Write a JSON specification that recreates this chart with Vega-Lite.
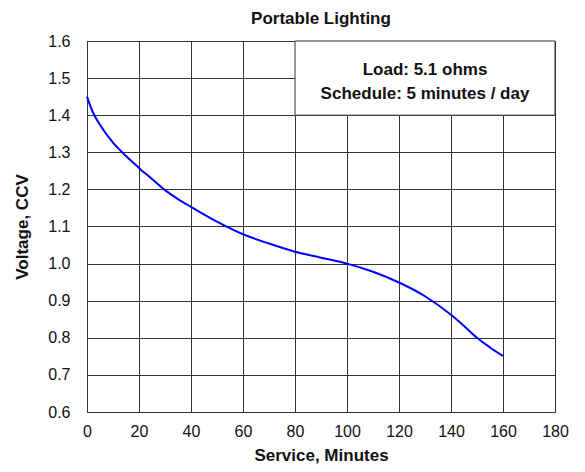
{
  "$schema": "https://vega.github.io/schema/vega-lite/v6.json",
  "width": 468,
  "height": 371,
  "autosize": {"type": "none"},
  "padding": {"left": 87, "top": 41, "right": 30, "bottom": 60},
  "background": "white",
  "config": {
    "font": "Liberation Sans",
    "view": {"stroke": "#444", "strokeWidth": 1},
    "axis": {
      "grid": true,
      "gridColor": "#333",
      "gridOpacity": 1,
      "gridWidth": 1,
      "domain": false,
      "ticks": false,
      "labelOverlap": false,
      "labelFlush": false,
      "labelFont": "Liberation Sans",
      "labelFontSize": 16,
      "labelColor": "#111",
      "titleFont": "Liberation Sans",
      "titleFontSize": 17,
      "titleFontWeight": "bold",
      "titleColor": "#111"
    },
    "axisX": {"labelPadding": 11, "titlePadding": 8},
    "axisY": {"labelPadding": 17, "titlePadding": 16}
  },
  "title": {
    "text": "Portable Lighting",
    "font": "Liberation Sans",
    "fontSize": 17,
    "fontWeight": "bold",
    "color": "#111",
    "offset": 5
  },
  "layer": [
    {
      "data": {
        "values": [
          {"minutes": 0, "voltage": 1.45},
          {"minutes": 2, "voltage": 1.412},
          {"minutes": 5, "voltage": 1.374},
          {"minutes": 10, "voltage": 1.326},
          {"minutes": 15, "voltage": 1.29},
          {"minutes": 20, "voltage": 1.258},
          {"minutes": 25, "voltage": 1.228},
          {"minutes": 30, "voltage": 1.198},
          {"minutes": 35, "voltage": 1.174},
          {"minutes": 40, "voltage": 1.153},
          {"minutes": 50, "voltage": 1.113},
          {"minutes": 60, "voltage": 1.079},
          {"minutes": 70, "voltage": 1.054},
          {"minutes": 80, "voltage": 1.032},
          {"minutes": 90, "voltage": 1.016},
          {"minutes": 100, "voltage": 1.0},
          {"minutes": 110, "voltage": 0.978},
          {"minutes": 120, "voltage": 0.949},
          {"minutes": 130, "voltage": 0.912},
          {"minutes": 140, "voltage": 0.862},
          {"minutes": 145, "voltage": 0.832},
          {"minutes": 150, "voltage": 0.8},
          {"minutes": 155, "voltage": 0.774},
          {"minutes": 160, "voltage": 0.751}
        ]
      },
      "mark": {"type": "line", "color": "#0000ff", "strokeWidth": 2, "interpolate": "monotone"},
      "encoding": {
        "x": {
          "field": "minutes",
          "type": "quantitative",
          "scale": {"domain": [0, 180], "nice": false},
          "axis": {"values": [0, 20, 40, 60, 80, 100, 120, 140, 160, 180], "title": "Service, Minutes"}
        },
        "y": {
          "field": "voltage",
          "type": "quantitative",
          "scale": {"domain": [0.6, 1.6], "nice": false, "zero": false},
          "axis": {"values": [0.6, 0.7, 0.8, 0.9, 1.0, 1.1, 1.2, 1.3, 1.4, 1.5, 1.6], "format": ".1f", "title": "Voltage, CCV"}
        }
      }
    },
    {
      "data": {"values": [{"note": "box"}]},
      "mark": {"type": "rect", "fill": "white", "stroke": "#333", "strokeWidth": 1},
      "encoding": {
        "x": {"datum": 80, "type": "quantitative", "axis": {"values": [0, 20, 40, 60, 80, 100, 120, 140, 160, 180], "title": "Service, Minutes"}},
        "x2": {"datum": 180},
        "y": {"datum": 1.4, "type": "quantitative", "axis": {"values": [0.6, 0.7, 0.8, 0.9, 1.0, 1.1, 1.2, 1.3, 1.4, 1.5, 1.6], "format": ".1f", "title": "Voltage, CCV"}},
        "y2": {"datum": 1.6}
      }
    },
    {
      "data": {"values": [{"note": "text"}]},
      "mark": {"type": "text", "font": "Liberation Sans", "fontSize": 17, "fontWeight": "bold", "fill": "#111", "align": "center", "baseline": "middle", "lineHeight": 24},
      "encoding": {
        "x": {"datum": 130, "type": "quantitative", "axis": {"values": [0, 20, 40, 60, 80, 100, 120, 140, 160, 180], "title": "Service, Minutes"}},
        "y": {"datum": 1.522, "type": "quantitative", "axis": {"values": [0.6, 0.7, 0.8, 0.9, 1.0, 1.1, 1.2, 1.3, 1.4, 1.5, 1.6], "format": ".1f", "title": "Voltage, CCV"}},
        "text": {"value": ["Load: 5.1 ohms", "Schedule: 5 minutes / day"]}
      }
    }
  ]
}
